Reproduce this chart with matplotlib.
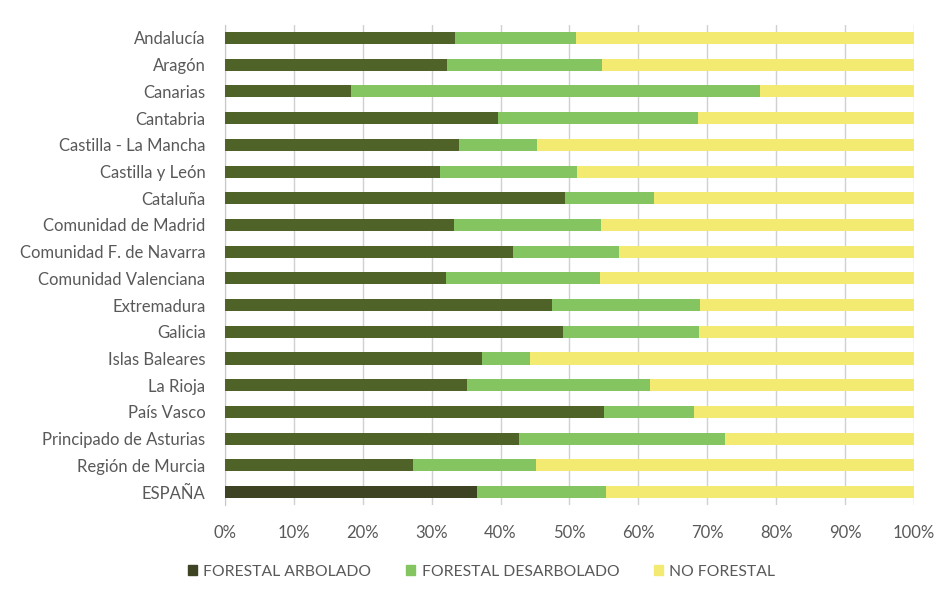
import matplotlib
matplotlib.use("Agg")
import matplotlib.pyplot as plt
import numpy as np
from matplotlib.patches import Patch

plt.rcParams['font.family'] = ['Lato', 'DejaVu Sans']

regions = ["Andalucía", "Aragón", "Canarias", "Cantabria", "Castilla - La Mancha",
           "Castilla y León", "Cataluña", "Comunidad de Madrid", "Comunidad F. de Navarra",
           "Comunidad Valenciana", "Extremadura", "Galicia", "Islas Baleares", "La Rioja",
           "País Vasco", "Principado de Asturias", "Región de Murcia", "ESPAÑA"]
arbolado = [33.4, 32.2, 18.3, 39.6, 34.0, 31.2, 49.3, 33.2, 41.8, 32.1, 47.5, 49.1,
            37.3, 35.1, 55.0, 42.7, 27.3, 36.6]
desarbolado = [17.5, 22.5, 59.3, 29.0, 11.3, 19.9, 13.0, 21.4, 15.4, 22.3, 21.4, 19.7,
               7.0, 26.6, 13.1, 29.9, 17.8, 18.7]
no_forestal = [100 - a - d for a, d in zip(arbolado, desarbolado)]
series_names = ["FORESTAL ARBOLADO", "FORESTAL DESARBOLADO", "NO FORESTAL"]
xticks = [0, 10, 20, 30, 40, 50, 60, 70, 80, 90, 100]

c_dark = "#4f6228"
c_dark_es = "#3e4324"
c_light = "#84c461"
c_yellow = "#f2ea71"
text_col = "#595959"

fig = plt.figure(figsize=(9.48, 5.97), dpi=100)
ax = fig.add_axes([0.2373, 0.1534, 0.9641 - 0.2373, 0.9588 - 0.1534])

y = np.arange(len(regions))
h = 0.45
dark_colors = [c_dark] * (len(regions) - 1) + [c_dark_es]
ax.barh(y, arbolado, height=h, color=dark_colors, zorder=3)
ax.barh(y, desarbolado, left=arbolado, height=h, color=c_light, zorder=3)
left2 = [a + d for a, d in zip(arbolado, desarbolado)]
ax.barh(y, no_forestal, left=left2, height=h, color=c_yellow, zorder=3)

ax.set_xlim(0, 100)
ax.set_ylim(len(regions) - 0.5, -0.5)
ax.set_yticks(y)
ax.set_yticklabels(regions)
ax.set_xticks(xticks)
ax.set_xticklabels([f"{t}%" for t in xticks])
ax.tick_params(axis='both', length=0, labelsize=12, colors=text_col)
ax.tick_params(axis='y', pad=14)
ax.tick_params(axis='x', pad=14)
ax.grid(axis='x', color="#d0d0d0", linewidth=1, zorder=0)
for s in ['top', 'right', 'bottom']:
    ax.spines[s].set_visible(False)
ax.spines['left'].set_color("#c8c8c8")

leg_handles = [Patch(color=c_dark_es), Patch(color=c_light), Patch(color=c_yellow)]
fig.legend(leg_handles, series_names, loc='center', bbox_to_anchor=(0.508, 0.042),
           ncol=3, frameon=False, fontsize=11.3, labelcolor=text_col,
           handlelength=0.6, handleheight=0.6, handletextpad=0.4, columnspacing=2.2)

fig.savefig("out.png", dpi=100, facecolor="white")
